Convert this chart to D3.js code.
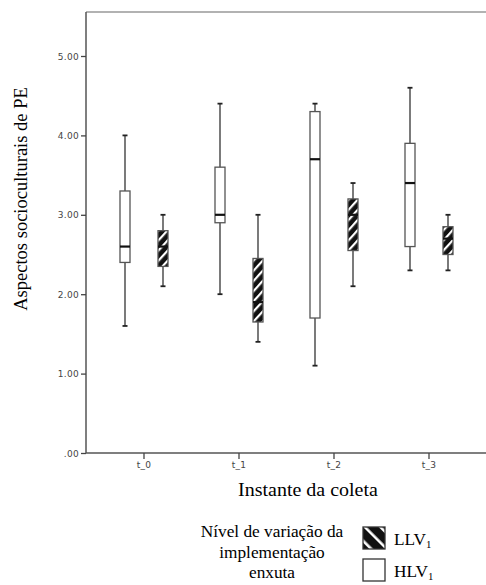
<!DOCTYPE html>
<html>
<head>
<meta charset="utf-8">
<script src="https://cdn.jsdelivr.net/npm/d3@7"></script>
<style>
  body { margin: 0; background: #fff; }
  svg { display: block; }
  .tickLabel { font-family: "DejaVu Sans", sans-serif; font-size: 9px; fill: #444; letter-spacing: 0.3px; }
  .serif { font-family: "Liberation Serif", "Times New Roman", serif; fill: #000; }
</style>
</head>
<body>
<div id="chart"></div>
<script>
"use strict";

// categories and groups
let instants = ["t_0", "t_1", "t_2", "t_3"];
let groups = ["HLV", "LLV"];
let yTicks = [0, 1, 2, 3, 4, 5];

// box stats per instant: [whiskerLow, q1, median, q3, whiskerHigh]
let hlvStats = [
  [1.6, 2.4, 2.6, 3.3, 4.0],
  [2.0, 2.9, 3.0, 3.6, 4.4],
  [1.1, 1.7, 3.7, 4.3, 4.4],
  [2.3, 2.6, 3.4, 3.9, 4.6]
];
let llvStats = [
  [2.1, 2.35, 2.6, 2.8, 3.0],
  [1.4, 1.65, 1.9, 2.45, 3.0],
  [2.1, 2.55, 3.0, 3.2, 3.4],
  [2.3, 2.5, 2.7, 2.85, 3.0]
];

let width = 486, height = 585;
let margin = { top: 12, left: 86, bottom: 453, right: 486 };
let stretch = 1.08; // horizontal text stretch of the original picture

let svg = d3.select("#chart").append("svg")
  .attr("width", width)
  .attr("height", height);

let defs = svg.append("defs");

function addHatch(id, angle, period, stripe) {
  let p = defs.append("pattern")
    .attr("id", id)
    .attr("patternUnits", "userSpaceOnUse")
    .attr("width", period)
    .attr("height", period)
    .attr("patternTransform", "rotate(" + angle + ")");
  p.append("rect").attr("width", period).attr("height", period).attr("fill", "#111");
  p.append("rect").attr("x", 0).attr("width", stripe).attr("height", period).attr("fill", "#fff");
}
addHatch("hatchBox", 42, 6.8, 2.2);
addHatch("hatchLegend", -45, 11, 2.6);

let x = d3.scaleBand()
  .domain(instants)
  .range([96.5, 476.5]);

let sub = d3.scaleOrdinal()
  .domain(groups)
  .range([-19, 19]);

let y = d3.scaleLinear()
  .domain([0, 5])
  .range([margin.bottom, 56]);

// frame: top border
svg.append("line")
  .attr("x1", margin.left).attr("x2", width)
  .attr("y1", margin.top).attr("y2", margin.top)
  .attr("stroke", "#999").attr("stroke-width", 1.5);

// y axis
let yAxis = d3.axisLeft(y)
  .tickValues(yTicks)
  .tickSize(5)
  .tickFormat(d => d === 0 ? ".00" : d3.format(".2f")(d));

let gy = svg.append("g")
  .attr("transform", "translate(" + margin.left + ",0)")
  .call(yAxis);
gy.select(".domain").attr("d", "M0," + margin.top + "V" + margin.bottom)
  .attr("stroke", "#555").attr("stroke-width", 1.5);
gy.selectAll(".tick line").attr("stroke", "#444").attr("stroke-width", 1.3);
gy.selectAll(".tick text").attr("class", "tickLabel").attr("x", -7).attr("dy", "0.35em");

// x axis
let xAxis = d3.axisBottom(x).tickSize(6);
let gx = svg.append("g")
  .attr("transform", "translate(0," + margin.bottom + ")")
  .call(xAxis);
gx.select(".domain").attr("d", "M" + margin.left + ",0H" + width)
  .attr("stroke", "#555").attr("stroke-width", 1.5);
gx.selectAll(".tick line").attr("stroke", "#444").attr("stroke-width", 1.3);
gx.selectAll(".tick text").attr("class", "tickLabel").attr("y", 9).attr("dy", "0.71em");

// boxes
let boxes = [];
instants.forEach((t, i) => {
  boxes.push({ t: t, g: "HLV", s: hlvStats[i] });
  boxes.push({ t: t, g: "LLV", s: llvStats[i] });
});

let boxW = 10, capW = 5;

let bg = svg.append("g").attr("class", "boxes")
  .selectAll("g")
  .data(boxes)
  .enter().append("g")
  .attr("transform", d => "translate(" + (x(d.t) + x.bandwidth() / 2 + sub(d.g)) + ",0)");

bg.append("line")
  .attr("y1", d => y(d.s[0])).attr("y2", d => y(d.s[4]))
  .attr("stroke", "#333").attr("stroke-width", 1.3);

bg.selectAll(".cap")
  .data(d => [d.s[0], d.s[4]])
  .enter().append("line")
  .attr("class", "cap")
  .attr("x1", -capW / 2).attr("x2", capW / 2)
  .attr("y1", v => y(v)).attr("y2", v => y(v))
  .attr("stroke", "#222").attr("stroke-width", 1.8);

bg.append("rect")
  .attr("x", -boxW / 2)
  .attr("width", boxW)
  .attr("y", d => y(d.s[3]))
  .attr("height", d => y(d.s[1]) - y(d.s[3]))
  .attr("fill", d => d.g === "LLV" ? "url(#hatchBox)" : "#fff")
  .attr("stroke", "#555")
  .attr("stroke-width", 1.3);

bg.append("line")
  .attr("x1", -boxW / 2).attr("x2", boxW / 2)
  .attr("y1", d => y(d.s[2])).attr("y2", d => y(d.s[2]))
  .attr("stroke", "#111").attr("stroke-width", 2.2);

// axis titles
svg.append("text")
  .attr("class", "serif")
  .attr("transform", "translate(27,199) rotate(-90)")
  .attr("text-anchor", "middle")
  .style("font-size", "18.5px")
  .text("Aspectos socioculturais de PE");

svg.append("text")
  .attr("class", "serif")
  .attr("transform", "translate(308,496) scale(" + stretch + ",1)")
  .attr("text-anchor", "middle")
  .style("font-size", "18.5px")
  .text("Instante da coleta");

// legend
let legendTitle = ["Nível de variação da", "implementação", "enxuta"];
svg.append("g").selectAll("text")
  .data(legendTitle)
  .enter().append("text")
  .attr("class", "serif")
  .attr("transform", (d, i) => "translate(272," + (537 + i * 20.5) + ") scale(" + stretch + ",1)")
  .attr("text-anchor", "middle")
  .style("font-size", "16px")
  .text(d => d);

let legendItems = [
  { g: "LLV", fill: "url(#hatchLegend)" },
  { g: "HLV", fill: "#fff" }
];

let lg = svg.append("g").selectAll("g")
  .data(legendItems)
  .enter().append("g")
  .attr("transform", (d, i) => "translate(363," + (527 + i * 32) + ")");

lg.append("rect")
  .attr("width", 22).attr("height", 22)
  .attr("fill", d => d.fill)
  .attr("stroke", "#333").attr("stroke-width", 1.3);

let lt = lg.append("text")
  .attr("class", "serif")
  .attr("transform", "translate(31,18) scale(" + stretch + ",1)")
  .style("font-size", "16px");
lt.append("tspan").text(d => d.g);
lt.append("tspan").attr("dy", 3).style("font-size", "10px").text("1");
</script>
</body>
</html>
